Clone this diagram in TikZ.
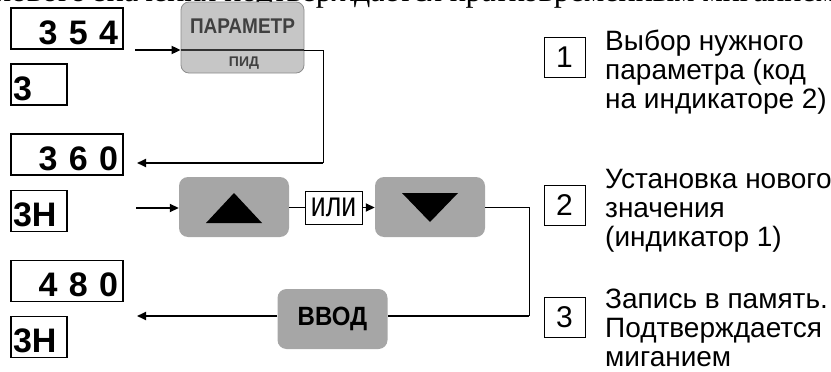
\documentclass[tikz,border=0pt]{standalone}
\usepackage{graphicx}
\usepackage{fontspec}
\setmainfont{Liberation Sans}
\newfontfamily\serifrm{Liberation Serif}
\usetikzlibrary{arrows.meta,positioning}

\begin{document}
\begin{tikzpicture}[
  x=1pt, y=-1pt,
  ind/.style={draw, line width=1.1pt, minimum height=41pt, inner ysep=0pt, text height=31pt, text depth=0pt, font=\fontsize{34}{34}\selectfont\bfseries},
  indwide/.style={ind, text width=102pt, inner xsep=5pt, align=right},
  indnarrow/.style={ind, text width=52pt, inner xsep=2pt, align=left},
  key/.style={fill=gray!70, rounded corners=9pt, minimum width=110pt, minimum height=60pt, inner sep=0pt},
  num/.style={draw, line width=0.7pt, minimum width=41pt, minimum height=40pt, inner sep=0pt, font=\fontsize{30}{30}\selectfont},
  note/.style={anchor=north west, align=left, inner sep=0pt, font=\fontsize{28}{29}\selectfont},
  arr/.style={-{Triangle[length=9pt,width=8pt]}, line width=1.8pt},
  wire/.style={line width=1pt}
]
\useasboundingbox (0,0) rectangle (831,372);
\clip (0,0) rectangle (831,372);

% line of text cut off above
\node[anchor=south, inner sep=0pt, font=\serifrm\fontsize{32}{32}\selectfont] (head) at (415,9) {нового значения подтверждается кратковременным миганием};

% indicators
\node[indwide] (i354) at (67,28.5) {3 5 4};
\node[indnarrow] (i3) at (39,84.5) {3};
\node[indwide] (i360) at (67,154.5) {3 6 0};
\node[indnarrow] (i3H) at (39,211) {3H};
\node[indwide] (i480) at (67,281) {4 8 0};
\node[indnarrow] (i3Hb) at (39,337) {3H};

% keys
\node[draw=black!45, line width=0.8pt, fill=gray!45, rounded corners=8pt, minimum width=123pt, minimum height=71pt] (keyParam) at (242.5,37.5) {};
\node[anchor=base, inner sep=0pt, text=black!75, font=\fontsize{19}{19}\selectfont\bfseries] (keyParamTop) at (242.5,33) {\scalebox{1}[1.12]{ПАРАМЕТР}};
\node[anchor=base, inner sep=0pt, text=black!75, font=\fontsize{14}{14}\selectfont\bfseries] (keyParamSub) at (244,66) {ПИД};
\node[key] (keyUp) at (234,207) {};
\node[key] (keyDown) at (430,207) {};
\node[key, font=\fontsize{24}{24}\selectfont\bfseries] (keyEnter) at (332.5,319) {\scalebox{1}[1.1]{ВВОД}};
\fill[shift={(keyUp.center)}] (-28,16) -- (28,16) -- (0,-14) -- cycle;
\fill[shift={(keyDown.center)}] (-28,-14) -- (28,-14) -- (0,15) -- cycle;
\node[draw, line width=0.8pt, minimum width=57pt, minimum height=33pt, inner sep=0pt, font=\fontsize{28}{28}\selectfont] (ili) at (333.5,207.5) {\scalebox{0.95}[1.25]{или}};

% steps
\node[num] (n1) at (564.5,57) {1};
\node[num] (n2) at (564.5,205) {2};
\node[num] (n3) at (564.5,317) {3};
\node[note] (t1) at (605,30) {Выбор нужного\\параметра (код\\на индикаторе 2)};
\node[note] (t2) at (605,169) {Установка нового\\значения\\(индикатор 1)};
\node[note] (t3) at (605,289) {Запись в память.\\Подтверждается\\миганием};

% connectors
\coordinate (a1) at (135,50);
\coordinate (pR) at (323,50);
\coordinate (r360) at (137,163);
\coordinate (a3H) at (136,208);
\coordinate (cR) at (529,207);
\coordinate (cB) at (529,316);
\coordinate (aE) at (137,316);
\draw[line width=1.3pt, black!80] (keyParam.west |- pR) -- (keyParam.east |- pR);
\draw[arr] (a1) -- (a1 -| keyParam.west);
\draw[wire] (keyParam.east |- pR) -- (pR) -- (pR |- r360);
\draw[arr] (pR |- r360) -- (r360);
\draw[arr] (a3H) -- (a3H -| keyUp.west);
\draw[wire] (keyUp.east |- ili) -- (ili.west);
\draw[arr] (ili.east) -- (ili.east -| keyDown.west);
\draw[wire] (keyDown.east |- cR) -- (cR) -- (cB);
\draw[line width=1.8pt] (cB) -- (cB -| keyEnter.east);
\draw[arr] (keyEnter.west |- aE) -- (aE);
\end{tikzpicture}
\end{document}
